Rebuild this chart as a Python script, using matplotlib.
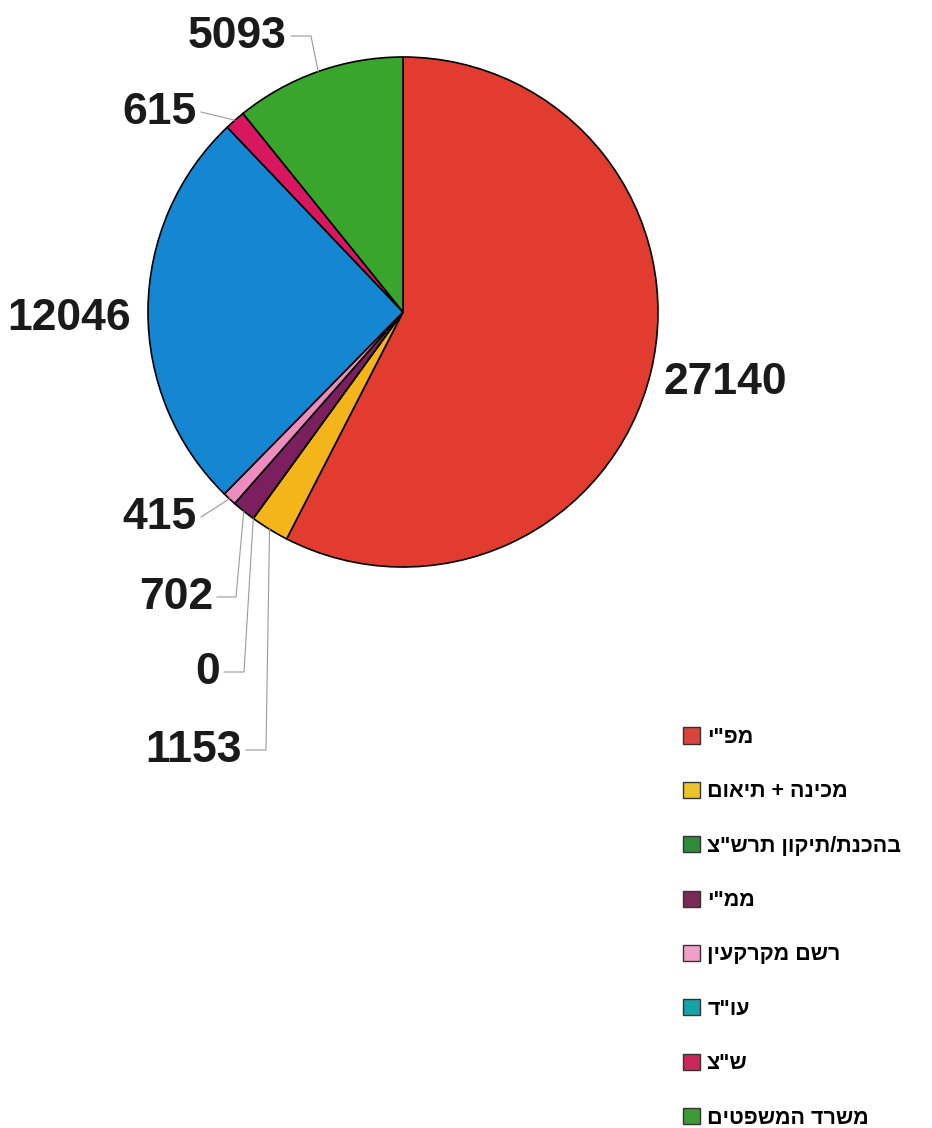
import numpy as np
import matplotlib.pyplot as plt
from matplotlib.patches import Patch


######################
# data, clockwise from 12 o'clock
categories = ['מפ"י', 'מכינה + תיאום', 'בהכנת/תיקון תרש"צ', 'ממ"י',
              'רשם מקרקעין', 'עו"ד', 'ש"צ', 'משרד המשפטים']
values = [27140, 1153, 0, 702, 415, 12046, 615, 5093]
colors = ['#e23b2f', '#f3b519', '#2f7d34', '#7b1f5e',
          '#ec8cbf', '#1587d2', '#d9175e', '#3aa52c']
legend_colors = ['#d8443c', '#e8c428', '#2f8a3a', '#7a2a55',
                 '#f0a0c8', '#16a3a8', '#c8285a', '#3d9a36']
######################

W, H = 932, 1128
CX, CY, R = 403, 312, 255     # pie centre / radius in pixels


def px(x, y):
    return (x - CX) / R, (CY - y) / R


def vis(s):
    # matplotlib has no bidi, so feed hebrew in visual order
    return s[::-1]


# label text anchor (pixels), alignment, elbow of leader (None = no leader)
label_layout = {
    27140: ((664, 382), 'left', None),
    1153: ((242, 750), 'right', (266, 750)),
    0: ((220, 672), 'right', (244, 672)),
    702: ((213, 597), 'right', (236, 597)),
    415: ((197, 517), 'right', None),
    12046: ((131, 318), 'right', None),
    615: ((197, 112), 'right', None),
    5093: ((287, 36), 'right', (311, 36)),
}


def main():
    fig = plt.figure(figsize=(W / 100, H / 100), dpi=100)
    ax = fig.add_axes([0, 0, 1, 1])

    wedges, _ = ax.pie(values, colors=colors, startangle=90, counterclock=False,
                       radius=1, center=(0, 0), frame=True,
                       wedgeprops=dict(edgecolor='black', linewidth=1.2))
    ax.set_xlim(-CX / R, (W - CX) / R)
    ax.set_ylim(-(H - CY) / R, CY / R)
    ax.set_aspect('auto')
    ax.axis('off')

    total = float(sum(values))
    cum = 0.0
    for v in values:
        mid = 90 - 360 * (cum + v / 2) / total
        cum += v
        edge = (np.cos(np.radians(mid)), np.sin(np.radians(mid)))
        (tx, ty), ha, elbow = label_layout[v]
        ax.text(*px(tx, ty), str(v), ha=ha, va='center', fontsize=32,
                fontweight='bold', family='Liberation Sans', color='#1a1a1a')
        start = px(tx + (4 if ha == 'right' else -4), ty)
        if elbow is not None:
            e = px(*elbow)
            ax.plot([start[0], e[0], edge[0]], [start[1], e[1], edge[1]],
                    color='#9a9a9a', lw=0.8)
        elif v in (415, 615):
            ax.plot([start[0], edge[0]], [start[1], edge[1]],
                    color='#9a9a9a', lw=0.8)

    handles = [Patch(facecolor=c, edgecolor='#333333', lw=1.0) for c in legend_colors]
    ax.legend(handles, [vis(c) for c in categories], loc='upper left',
              bbox_to_anchor=(683 / W, 1 - 727 / H), frameon=False,
              prop=dict(family=['Liberation Sans', 'DejaVu Sans'], weight='bold', size=15.5),
              handlelength=0.78, handleheight=0.78, handletextpad=0.35,
              labelspacing=1.55, borderpad=0, borderaxespad=0)

    fig.savefig('out.png', dpi=100, facecolor='white')


if __name__ == "__main__":
    main()
